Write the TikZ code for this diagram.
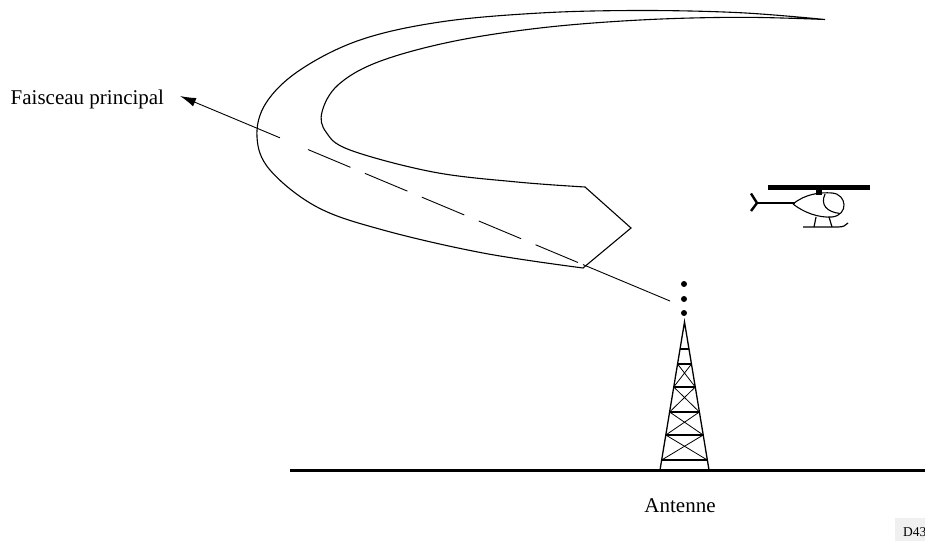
\documentclass[tikz,border=0pt]{standalone}
\usepackage{fontspec}
\setmainfont{Liberation Serif}
\usetikzlibrary{arrows.meta,calc}

\tikzset{
  outline/.style={line width=1.1pt, line join=miter},
  axisline/.style={line width=0.9pt},
  lbl/.style={inner sep=0pt, font=\fontsize{21}{24}\selectfont},
  legline/.style={line width=1.3pt},
  barline/.style={line width=2.8pt},
  braceline/.style={line width=0.8pt},
}

\begin{document}
\begin{tikzpicture}[x=1pt, y=-1pt]
\useasboundingbox (0,0) rectangle (925,541);

% beam envelope: outer edge, pointed front, inner edge
\draw[outline]
  plot[smooth, tension=0.6] coordinates {(825,19.5) (740,12.7) (640,10.5) (540,13) (440,22) (360,40) (300,70) (266,103) (257,137) (270,170) (317,207) (383,230) (483,253) (583,268)}
  -- (631,228) --
  plot[smooth, tension=0.6] coordinates {(585,187) (517,182) (433,172) (350,150) (326,132) (322,112) (338,85) (378,62) (450,42) (540,28) (640,20) (740,17.3) (825,19.5)};

% main beam axis
\coordinate (tipF) at (180,96);
\coordinate (ant) at (670,301);
\coordinate (axA) at ($(tipF)!0.204!(ant)$);
\coordinate (axB) at ($(tipF)!0.2612!(ant)$);
\coordinate (axC) at ($(tipF)!0.8122!(ant)$);
\coordinate (axD) at ($(tipF)!0.8224!(ant)$);

\draw[axisline, -{Latex[length=16pt,width=9pt]}] (axA) -- (tipF);
\draw[axisline, dash pattern=on 46pt off 15.65pt] (axC) -- (axB);
\draw[axisline] (axD) -- (ant);

\node[lbl, anchor=base west] (faisceau) at (10.5,104.3) {Faisceau principal};

% signal dots above the mast
\foreach \yy in {284,299,313} \fill (684,\yy) circle (3);

% lattice tower
\coordinate (apex) at (684.5,322);
\coordinate (baseL) at (660,470);
\coordinate (baseR) at (709,470);
\draw[legline] (baseL) -- (apex) -- (baseR);
\foreach \yy in {349,364,387,412,435,460} {
  \pgfmathsetmacro{\hw}{(\yy-322)*24.5/148}
  \draw[barline] (684.5-\hw,\yy) -- (684.5+\hw,\yy);
}
\foreach \ya/\yb in {364/387,387/412,412/435,435/460} {
  \pgfmathsetmacro{\ha}{(\ya-322)*24.5/148}
  \pgfmathsetmacro{\hb}{(\yb-322)*24.5/148}
  \draw[braceline] (684.5-\ha,\ya) -- (684.5+\hb,\yb);
  \draw[braceline] (684.5+\ha,\ya) -- (684.5-\hb,\yb);
}

% ground
\draw[line width=3pt] (290,470) -- (925,470);
\node[lbl, anchor=base] (antenne) at (680,512) {Antenne};

% helicopter
\fill (768,185) rectangle (870,189.5);
\fill (816,189) rectangle (822,195);
\draw[line width=2.2pt] (757,203) -- (795,203);
\draw[line width=2.4pt, line join=miter] (751,193.5) -- (757,203) -- (751,211);
\draw[line width=1.1pt] (793,204) .. controls (805,194) and (820,192) .. (832,193)
  .. controls (847,194) and (849,215) .. (832,217)
  .. controls (818,218) and (803,212) .. (793,204);
\draw[line width=1.1pt] (825,194) .. controls (820,205) and (827,212) .. (840,213.5);
\draw[line width=1.2pt] (816,217) -- (814,227);
\draw[line width=1.2pt] (829,217) -- (832,227);
\draw[line width=1.2pt] (803,227) -- (838,227) .. controls (843,227) and (846,225.5) .. (848,223);

% drawing reference tag
\fill[gray!12] (895,518) rectangle (925,541);
\node[inner sep=0pt, anchor=base west, font=\fontsize{13.5}{15}\selectfont] (ref) at (903,536.5) {D43};
\end{tikzpicture}
\end{document}
